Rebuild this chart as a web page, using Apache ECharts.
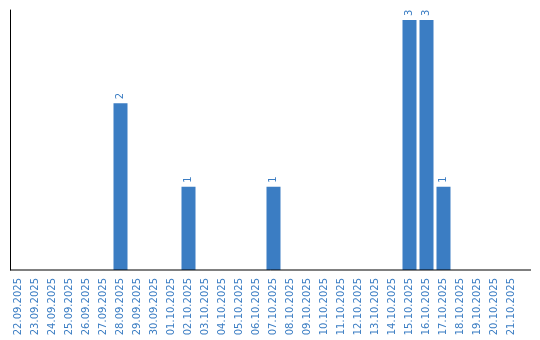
<!DOCTYPE html>
<html>
<head>
<meta charset="utf-8">
<script src="https://cdn.jsdelivr.net/npm/echarts@6/dist/echarts.min.js"></script>
<style>html,body{margin:0;padding:0;background:#fff}#c{width:540px;height:340px}</style>
</head>
<body>
<div id="c"></div>
<script>
var categories = ["22.09.2025","23.09.2025","24.09.2025","25.09.2025","26.09.2025","27.09.2025","28.09.2025","29.09.2025","30.09.2025","01.10.2025","02.10.2025","03.10.2025","04.10.2025","05.10.2025","06.10.2025","07.10.2025","08.10.2025","09.10.2025","10.10.2025","11.10.2025","12.10.2025","13.10.2025","14.10.2025","15.10.2025","16.10.2025","17.10.2025","18.10.2025","19.10.2025","20.10.2025","21.10.2025"];
var counts = [0,0,0,0,0,0,2,0,0,0,1,0,0,0,0,1,0,0,0,0,0,0,0,3,3,1,0,0,0,0];

var chart = echarts.init(document.getElementById('c'), null, {renderer:'canvas'});
chart.setOption({
  animation: false,
  backgroundColor: '#ffffff',
  grid: {left: 10, right: 20, top: 10, bottom: 70, containLabel: false},
  xAxis: {
    type: 'category',
    data: categories,
    axisLine: {show: false},
    axisTick: {show: false},
    axisLabel: {rotate: 90, margin: 8, interval: 0, color: '#3b7dc3', fontFamily: 'DejaVu Sans', fontSize: 10}
  },
  yAxis: {
    type: 'value',
    min: 0,
    max: 3.12,
    axisLine: {show: true, lineStyle: {color: '#000', width: 1}},
    axisTick: {show: false},
    axisLabel: {show: false},
    splitLine: {show: false}
  },
  graphic: [{
    type: 'line',
    shape: {x1: 10, y1: 270, x2: 531, y2: 270},
    style: {stroke: '#000', lineWidth: 1},
    z: 10
  }],
  series: [{
    type: 'bar',
    data: counts,
    barWidth: 14,
    itemStyle: {color: '#3b7dc3'},
    label: {
      show: true,
      position: 'top',
      distance: 4,
      rotate: 90,
      align: 'left',
      verticalAlign: 'middle',
      color: '#3b7dc3',
      fontFamily: 'DejaVu Sans',
      fontSize: 10,
      formatter: function (p) { return p.value > 0 ? String(p.value) : ''; }
    }
  }]
});
</script>
</body>
</html>
